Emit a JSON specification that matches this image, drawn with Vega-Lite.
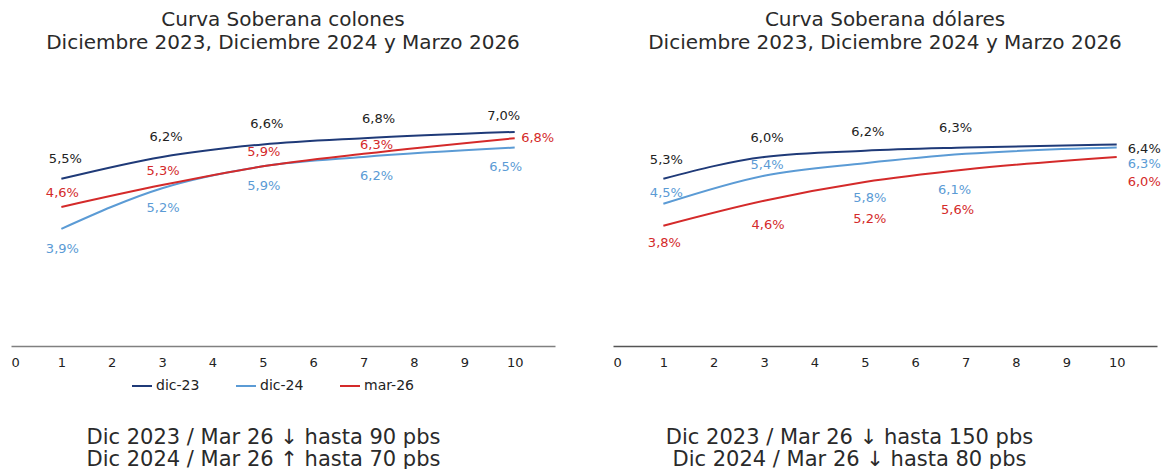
{
  "$schema": "https://vega.github.io/schema/vega-lite/v6.json",
  "background": "white",
  "padding": {"left": 11, "top": 10, "right": 0, "bottom": 0},
  "config": {
    "locale": {"number": {"decimal": ",", "thousands": ".", "grouping": [3], "currency": ["", ""]}},
    "view": {"stroke": null},
    "font": "DejaVu Sans",
    "title": {"font": "DejaVu Sans", "fontSize": 20, "fontWeight": "normal", "color": "#2a2a2a", "lineHeight": 23, "offset": 43, "anchor": "middle"},
    "axis": {"labelFont": "DejaVu Sans", "titleFont": "DejaVu Sans"},
    "legend": {"labelFont": "DejaVu Sans"}
  },
  "datasets": {
    "colones": [
      {"plazo": 1, "serie": "dic-23", "tasa": 0.055},
      {"plazo": 3, "serie": "dic-23", "tasa": 0.062},
      {"plazo": 5, "serie": "dic-23", "tasa": 0.066},
      {"plazo": 7, "serie": "dic-23", "tasa": 0.068},
      {"plazo": 10, "serie": "dic-23", "tasa": 0.070},
      {"plazo": 1, "serie": "dic-24", "tasa": 0.039},
      {"plazo": 3, "serie": "dic-24", "tasa": 0.052},
      {"plazo": 5, "serie": "dic-24", "tasa": 0.059},
      {"plazo": 7, "serie": "dic-24", "tasa": 0.062},
      {"plazo": 10, "serie": "dic-24", "tasa": 0.065},
      {"plazo": 1, "serie": "mar-26", "tasa": 0.046},
      {"plazo": 3, "serie": "mar-26", "tasa": 0.053},
      {"plazo": 5, "serie": "mar-26", "tasa": 0.059},
      {"plazo": 7, "serie": "mar-26", "tasa": 0.063},
      {"plazo": 10, "serie": "mar-26", "tasa": 0.068}
    ],
    "dolares": [
      {"plazo": 1, "serie": "dic-23", "tasa": 0.053},
      {"plazo": 3, "serie": "dic-23", "tasa": 0.060},
      {"plazo": 5, "serie": "dic-23", "tasa": 0.062},
      {"plazo": 7, "serie": "dic-23", "tasa": 0.063},
      {"plazo": 10, "serie": "dic-23", "tasa": 0.064},
      {"plazo": 1, "serie": "dic-24", "tasa": 0.045},
      {"plazo": 3, "serie": "dic-24", "tasa": 0.054},
      {"plazo": 5, "serie": "dic-24", "tasa": 0.058},
      {"plazo": 7, "serie": "dic-24", "tasa": 0.061},
      {"plazo": 10, "serie": "dic-24", "tasa": 0.063},
      {"plazo": 1, "serie": "mar-26", "tasa": 0.038},
      {"plazo": 3, "serie": "mar-26", "tasa": 0.046},
      {"plazo": 5, "serie": "mar-26", "tasa": 0.052},
      {"plazo": 7, "serie": "mar-26", "tasa": 0.056},
      {"plazo": 10, "serie": "mar-26", "tasa": 0.060}
    ]
  },
  "resolve": {"legend": {"color": "independent"}, "scale": {"y": "independent"}},
  "spacing": 58,
  "hconcat": [
    {
      "width": 544,
      "height": 250,
      "title": {"text": ["Curva Soberana colones", "Diciembre 2023, Diciembre 2024 y Marzo 2026"]},
      "data": {"name": "colones"},
      "encoding": {
        "x": {"field": "plazo", "type": "quantitative", "scale": {"domain": [0, 10.8], "nice": false, "zero": false},
          "axis": {"values": [0,1,2,3,4,5,6,7,8,9,10], "format": "d", "ticks": false, "grid": false, "domainColor": "#808080", "domainWidth": 1.5,
            "labelFontSize": 13, "labelColor": "#222222", "labelPadding": 10,
            "title": ["Dic 2023 / Mar 26 ↓ hasta 90 pbs", "Dic 2024 / Mar 26 ↑ hasta 70 pbs"],
            "titleFontSize": 21, "titleFontWeight": "normal", "titleColor": "#2a2a2a", "titlePadding": 57, "titleLineHeight": 22, "titleX": 252}},
        "y": {"field": "tasa", "type": "quantitative", "scale": {"domain": [0.0015, 0.0815], "nice": false, "zero": false}, "axis": null}
      },
      "layer": [
        {"mark": {"type": "line", "interpolate": "monotone", "strokeWidth": 2},
         "encoding": {"color": {"field": "serie", "type": "nominal",
           "scale": {"domain": ["dic-23", "dic-24", "mar-26"], "range": ["#1f3a78", "#5b9bd5", "#d42a2a"]},
           "legend": {"orient": "none", "legendX": 120, "legendY": 279, "direction": "horizontal", "title": null,
             "symbolType": "stroke", "symbolStrokeWidth": 2, "symbolSize": 400, "labelFontSize": 14, "labelColor": "#222222", "labelOffset": 3, "columnPadding": 32}}}},
        {"transform": [{"filter": "datum.serie == 'dic-23' && datum.plazo < 7"}], "mark": {"type": "text", "fontSize": 13, "color": "#222222", "dx": 4, "dy": -20}, "encoding": {"text": {"field": "tasa", "type": "quantitative", "format": ".1%"}}},
        {"transform": [{"filter": "datum.serie == 'dic-23' && datum.plazo == 7"}], "mark": {"type": "text", "fontSize": 13, "color": "#222222", "dx": 15, "dy": -19}, "encoding": {"text": {"field": "tasa", "type": "quantitative", "format": ".1%"}}},
        {"transform": [{"filter": "datum.serie == 'dic-23' && datum.plazo == 10"}], "mark": {"type": "text", "fontSize": 13, "color": "#222222", "dx": -11, "dy": -16}, "encoding": {"text": {"field": "tasa", "type": "quantitative", "format": ".1%"}}},
        {"transform": [{"filter": "datum.serie == 'dic-24' && datum.plazo < 7"}], "mark": {"type": "text", "fontSize": 13, "color": "#5b9bd5", "dx": 1, "dy": 20}, "encoding": {"text": {"field": "tasa", "type": "quantitative", "format": ".1%"}}},
        {"transform": [{"filter": "datum.serie == 'dic-24' && datum.plazo == 7"}], "mark": {"type": "text", "fontSize": 13, "color": "#5b9bd5", "dx": 13, "dy": 19}, "encoding": {"text": {"field": "tasa", "type": "quantitative", "format": ".1%"}}},
        {"transform": [{"filter": "datum.serie == 'dic-24' && datum.plazo == 10"}], "mark": {"type": "text", "fontSize": 13, "color": "#5b9bd5", "dx": -9, "dy": 19}, "encoding": {"text": {"field": "tasa", "type": "quantitative", "format": ".1%"}}},
        {"transform": [{"filter": "datum.serie == 'mar-26' && datum.plazo < 7"}], "mark": {"type": "text", "fontSize": 13, "color": "#d42a2a", "dx": 1, "dy": -14}, "encoding": {"text": {"field": "tasa", "type": "quantitative", "format": ".1%"}}},
        {"transform": [{"filter": "datum.serie == 'mar-26' && datum.plazo == 7"}], "mark": {"type": "text", "fontSize": 13, "color": "#d42a2a", "dx": 13, "dy": -9}, "encoding": {"text": {"field": "tasa", "type": "quantitative", "format": ".1%"}}},
        {"transform": [{"filter": "datum.serie == 'mar-26' && datum.plazo == 10"}], "mark": {"type": "text", "fontSize": 13, "color": "#d42a2a", "dx": 23, "dy": 0}, "encoding": {"text": {"field": "tasa", "type": "quantitative", "format": ".1%"}}}
      ]
    },
    {
      "width": 544,
      "height": 250,
      "title": {"text": ["Curva Soberana dólares", "Diciembre 2023, Diciembre 2024 y Marzo 2026"]},
      "data": {"name": "dolares"},
      "encoding": {
        "x": {"field": "plazo", "type": "quantitative", "scale": {"domain": [0, 10.8], "nice": false, "zero": false},
          "axis": {"values": [0,1,2,3,4,5,6,7,8,9,10], "format": "d", "ticks": false, "grid": false, "domainColor": "#555555", "domainWidth": 1.5,
            "labelFontSize": 13, "labelColor": "#222222", "labelPadding": 10,
            "title": ["Dic 2023 / Mar 26 ↓ hasta 150 pbs", "Dic 2024 / Mar 26 ↓ hasta 80  pbs"],
            "titleFontSize": 21, "titleFontWeight": "normal", "titleColor": "#2a2a2a", "titlePadding": 57, "titleLineHeight": 22, "titleX": 236}},
        "y": {"field": "tasa", "type": "quantitative", "scale": {"domain": [-0.0005, 0.0795], "nice": false, "zero": false}, "axis": null}
      },
      "layer": [
        {"mark": {"type": "line", "interpolate": "monotone", "strokeWidth": 2},
         "encoding": {"color": {"field": "serie", "type": "nominal",
           "scale": {"domain": ["dic-23", "dic-24", "mar-26"], "range": ["#1f3a78", "#5b9bd5", "#d42a2a"]},
           "legend": null}}},
        {"transform": [{"filter": "datum.serie == 'dic-23' && datum.plazo < 7"}], "mark": {"type": "text", "fontSize": 13, "color": "#222222", "dx": 3, "dy": -19}, "encoding": {"text": {"field": "tasa", "type": "quantitative", "format": ".1%"}}},
        {"transform": [{"filter": "datum.serie == 'dic-23' && datum.plazo == 7"}], "mark": {"type": "text", "fontSize": 13, "color": "#222222", "dx": -10, "dy": -20}, "encoding": {"text": {"field": "tasa", "type": "quantitative", "format": ".1%"}}},
        {"transform": [{"filter": "datum.serie == 'dic-23' && datum.plazo == 10"}], "mark": {"type": "text", "fontSize": 13, "color": "#222222", "align": "left", "dx": 11, "dy": 5}, "encoding": {"text": {"field": "tasa", "type": "quantitative", "format": ".1%"}}},
        {"transform": [{"filter": "datum.serie == 'dic-24' && datum.plazo < 5"}], "mark": {"type": "text", "fontSize": 13, "color": "#5b9bd5", "dx": 3, "dy": -11}, "encoding": {"text": {"field": "tasa", "type": "quantitative", "format": ".1%"}}},
        {"transform": [{"filter": "datum.serie == 'dic-24' && datum.plazo == 5"}], "mark": {"type": "text", "fontSize": 13, "color": "#5b9bd5", "dx": 5, "dy": 35}, "encoding": {"text": {"field": "tasa", "type": "quantitative", "format": ".1%"}}},
        {"transform": [{"filter": "datum.serie == 'dic-24' && datum.plazo == 7"}], "mark": {"type": "text", "fontSize": 13, "color": "#5b9bd5", "dx": -11, "dy": 36}, "encoding": {"text": {"field": "tasa", "type": "quantitative", "format": ".1%"}}},
        {"transform": [{"filter": "datum.serie == 'dic-24' && datum.plazo == 10"}], "mark": {"type": "text", "fontSize": 13, "color": "#5b9bd5", "align": "left", "dx": 11, "dy": 16}, "encoding": {"text": {"field": "tasa", "type": "quantitative", "format": ".1%"}}},
        {"transform": [{"filter": "datum.serie == 'mar-26' && datum.plazo == 1"}], "mark": {"type": "text", "fontSize": 13, "color": "#d42a2a", "dx": 1, "dy": 17}, "encoding": {"text": {"field": "tasa", "type": "quantitative", "format": ".1%"}}},
        {"transform": [{"filter": "datum.serie == 'mar-26' && datum.plazo == 3"}], "mark": {"type": "text", "fontSize": 13, "color": "#d42a2a", "dx": 4, "dy": 24}, "encoding": {"text": {"field": "tasa", "type": "quantitative", "format": ".1%"}}},
        {"transform": [{"filter": "datum.serie == 'mar-26' && datum.plazo == 5"}], "mark": {"type": "text", "fontSize": 13, "color": "#d42a2a", "dx": 5, "dy": 37}, "encoding": {"text": {"field": "tasa", "type": "quantitative", "format": ".1%"}}},
        {"transform": [{"filter": "datum.serie == 'mar-26' && datum.plazo == 7"}], "mark": {"type": "text", "fontSize": 13, "color": "#d42a2a", "dx": -8, "dy": 41}, "encoding": {"text": {"field": "tasa", "type": "quantitative", "format": ".1%"}}},
        {"transform": [{"filter": "datum.serie == 'mar-26' && datum.plazo == 10"}], "mark": {"type": "text", "fontSize": 13, "color": "#d42a2a", "align": "left", "dx": 11, "dy": 25}, "encoding": {"text": {"field": "tasa", "type": "quantitative", "format": ".1%"}}}
      ]
    }
  ]
}
